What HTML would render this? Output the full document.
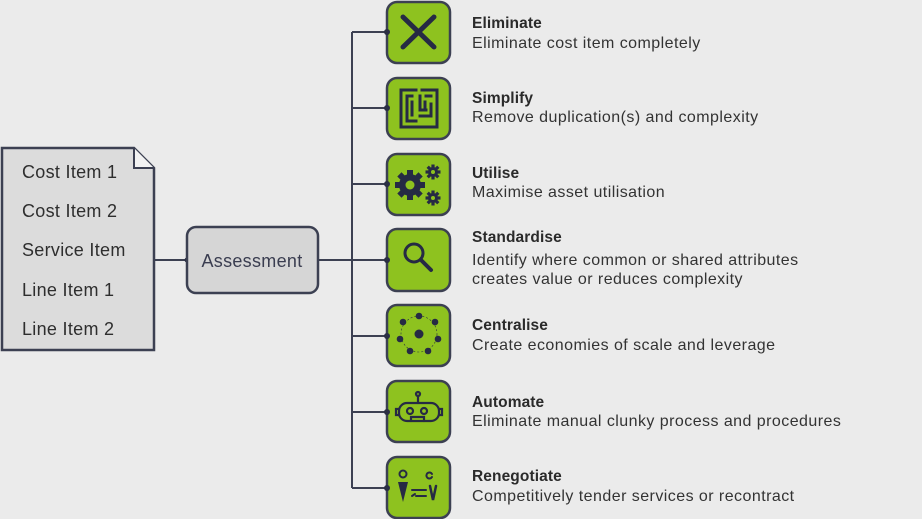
<!DOCTYPE html>
<html><head><meta charset="utf-8"><style>
html,body{margin:0;padding:0;background:#ebebeb;}
svg{display:block;}
text{font-family:"Liberation Sans","DejaVu Sans",sans-serif;fill:#2a2a2a;}
.t{font-weight:bold;font-size:15.5px;letter-spacing:0.1px;}
.d{font-size:16px;fill:#333;letter-spacing:0.45px;}
.li{font-size:18px;fill:#2e2e2e;letter-spacing:0.3px;}
</style></head><body>
<svg width="922" height="519" viewBox="0 0 922 519" xmlns="http://www.w3.org/2000/svg">
<rect width="922" height="519" fill="#ebebeb"/>
<path d="M2,148 H134 L154,168 V350 H2 Z" fill="#dcdcdc" stroke="#3c4052" stroke-width="2.5"/>
<path d="M134,148 V168 H154" fill="#f2f2f2" stroke="#3c4052" stroke-width="2"/>
<text class="li" x="22" y="178">Cost Item 1</text>
<text class="li" x="22" y="217">Cost Item 2</text>
<text class="li" x="22" y="256">Service Item</text>
<text class="li" x="22" y="296">Line Item 1</text>
<text class="li" x="22" y="335">Line Item 2</text>
<g stroke="#3c4052" stroke-width="2" fill="none">
<line x1="154" y1="260" x2="187" y2="260"/>
<line x1="318" y1="260" x2="387" y2="260"/>
<line x1="352" y1="32" x2="352" y2="488"/>
<line x1="352" y1="32" x2="387" y2="32"/>
<line x1="352" y1="108" x2="387" y2="108"/>
<line x1="352" y1="184" x2="387" y2="184"/>
<line x1="352" y1="336" x2="387" y2="336"/>
<line x1="352" y1="412" x2="387" y2="412"/>
<line x1="352" y1="488" x2="387" y2="488"/>
</g>
<circle cx="187" cy="260" r="2.5" fill="#2b2f45"/>
<rect x="187" y="227" width="131" height="66" rx="9" fill="#d6d6d6" stroke="#3c4052" stroke-width="2.5"/>
<text x="252" y="267" text-anchor="middle" style="font-size:18px;fill:#3a3d50;letter-spacing:0.3px">Assessment</text>
<g fill="#8ec21f" stroke="#3c4052" stroke-width="2.5">
<rect x="387" y="2" width="63" height="61" rx="10"/>
<rect x="387" y="78" width="63" height="61" rx="10"/>
<rect x="387" y="154" width="63" height="61" rx="10"/>
<rect x="387" y="229" width="63" height="62" rx="10"/>
<rect x="387" y="305" width="63" height="61" rx="10"/>
<rect x="387" y="381" width="63" height="61" rx="10"/>
<rect x="387" y="457" width="63" height="61" rx="10"/>
</g>
<g fill="#2b2f45">
<circle cx="387" cy="32" r="3"/><circle cx="387" cy="108" r="3"/><circle cx="387" cy="184" r="3"/>
<circle cx="387" cy="260" r="3"/><circle cx="387" cy="336" r="3"/><circle cx="387" cy="412" r="3"/><circle cx="387" cy="488" r="3"/>
</g>
<g stroke="#262a44" fill="none" stroke-linecap="round">
<path d="M403,17 L434,47 M434,17 L403,47" stroke-width="5"/>
<g stroke-width="3" stroke-linecap="square">
<path d="M401,90 H416 M401,90 V127 H437 V90 H422 M407,96 H412 M407,96 V121 H416 M412,102 V115 M420,96 V110 H426 M420,116 H431 V104 M426,96 H431 M425,102 V110"/>
</g>
<circle cx="414" cy="253" r="9" stroke-width="3"/>
<path d="M421,260 L431,270" stroke-width="4"/>
<g stroke-width="2.2">
<rect x="399" y="403" width="40" height="18" rx="8"/>
<circle cx="410" cy="411" r="3"/><circle cx="424" cy="411" r="3"/>
<path d="M411,421 V417 H424 V421 M418,403 V396"/><circle cx="418" cy="394" r="2"/>
<path d="M399,409 H396 V415 H399 M439,409 H442 V415 H439"/>
</g>
<circle cx="403" cy="474" r="3.5" stroke-width="2"/>
<path d="M432,474 a3,3 0 1 0 0,3" stroke-width="2"/>
<path d="M430,486 L433,500 L436,486" stroke-width="2.5"/>
<path d="M412,490 H426 M416,496 H426 M412,496 l3,-2" stroke-width="2"/>
</g>
<path d="M398,482 H408 L403,502 Z" fill="#262a44"/>
<g fill="#262a44">
<circle cx="410" cy="185" r="11"/>
<g transform="translate(410,185)"><rect x="-3" y="-15" width="6" height="30"/><rect x="-15" y="-3" width="30" height="6"/><rect x="-3" y="-15" width="6" height="30" transform="rotate(45)"/><rect x="-3" y="-15" width="6" height="30" transform="rotate(-45)"/></g>
<circle cx="433" cy="172" r="5"/><g transform="translate(433,172)"><rect x="-1.6" y="-7.5" width="3.2" height="15"/><rect x="-7.5" y="-1.6" width="15" height="3.2"/><rect x="-1.6" y="-7.5" width="3.2" height="15" transform="rotate(45)"/><rect x="-1.6" y="-7.5" width="3.2" height="15" transform="rotate(-45)"/></g>
<circle cx="433" cy="198" r="5"/><g transform="translate(433,198)"><rect x="-1.6" y="-7.5" width="3.2" height="15"/><rect x="-7.5" y="-1.6" width="15" height="3.2"/><rect x="-1.6" y="-7.5" width="3.2" height="15" transform="rotate(45)"/><rect x="-1.6" y="-7.5" width="3.2" height="15" transform="rotate(-45)"/></g>
</g>
<circle cx="410" cy="185" r="4.5" fill="#8ec21f"/>
<circle cx="433" cy="172" r="2" fill="#8ec21f"/><circle cx="433" cy="198" r="2" fill="#8ec21f"/>
<g fill="#262a44">
<circle cx="419" cy="334" r="4.5"/>
<circle cx="419" cy="316" r="3.3"/><circle cx="435" cy="322" r="3.3"/><circle cx="438" cy="339" r="3.3"/>
<circle cx="428" cy="351" r="3.3"/><circle cx="410" cy="351" r="3.3"/><circle cx="400" cy="339" r="3.3"/><circle cx="403" cy="322" r="3.3"/>
</g>
<circle cx="419" cy="334" r="18" fill="none" stroke="#262a44" stroke-width="0.6" stroke-dasharray="2 2"/>
<text class="t" x="472" y="28">Eliminate</text>
<text class="d" x="472" y="48">Eliminate cost item completely</text>
<text class="t" x="472" y="103">Simplify</text>
<text class="d" x="472" y="122">Remove duplication(s) and complexity</text>
<text class="t" x="472" y="178">Utilise</text>
<text class="d" x="472" y="197">Maximise asset utilisation</text>
<text class="t" x="472" y="242">Standardise</text>
<text class="d" x="472" y="265">Identify where common or shared attributes</text>
<text class="d" x="472" y="284">creates value or reduces complexity</text>
<text class="t" x="472" y="330">Centralise</text>
<text class="d" x="472" y="350">Create economies of scale and leverage</text>
<text class="t" x="472" y="407">Automate</text>
<text class="d" x="472" y="426">Eliminate manual clunky process and procedures</text>
<text class="t" x="472" y="481">Renegotiate</text>
<text class="d" x="472" y="501">Competitively tender services or recontract</text>
</svg>
</body></html>
